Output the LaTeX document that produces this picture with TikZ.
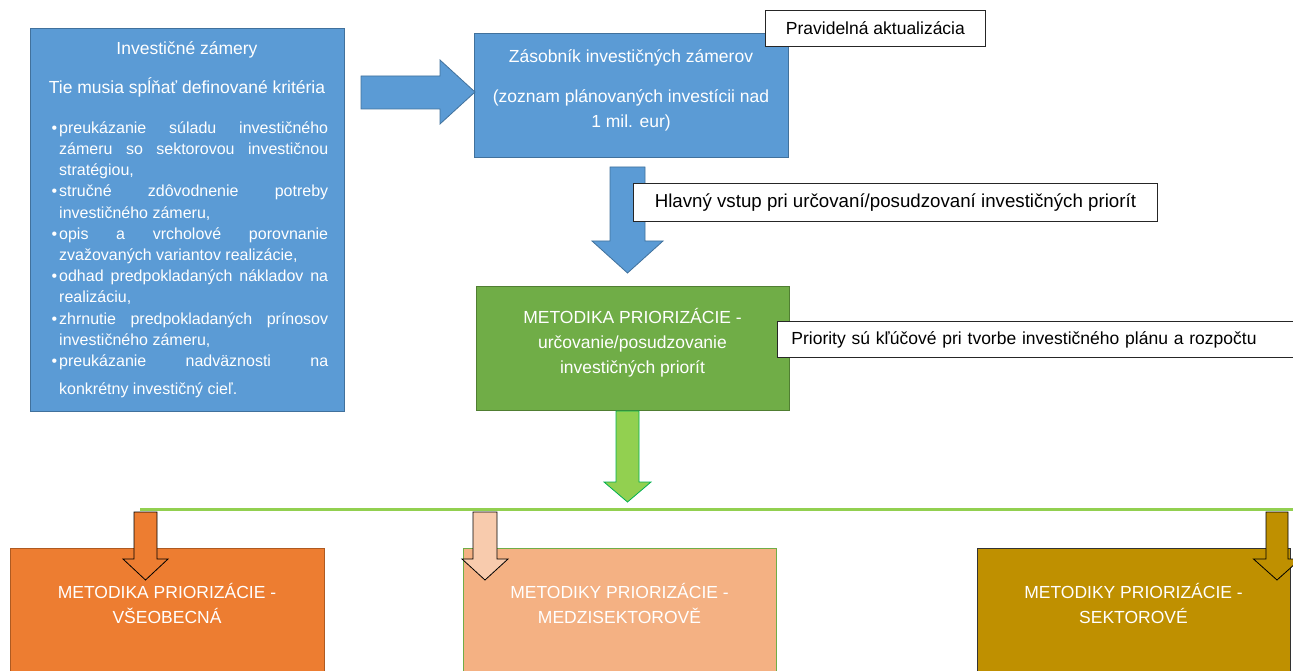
\documentclass[tikz,border=0pt]{standalone}
\usepackage{fontspec}
\setmainfont{Liberation Sans}
\usepackage{enumitem}
\usetikzlibrary{positioning}
\definecolor{offblue}{HTML}{5B9BD5}
\definecolor{blueedge}{HTML}{41719C}
\definecolor{offgreen}{HTML}{70AD47}
\definecolor{greenedge}{HTML}{507E32}
\definecolor{lightgreen}{HTML}{92D050}
\definecolor{brightgreen}{HTML}{00B050}
\definecolor{offorange}{HTML}{ED7D31}
\definecolor{orangeedge}{HTML}{AE5A21}
\definecolor{peach}{HTML}{F4B183}
\definecolor{lightpeach}{HTML}{F8CBAD}
\definecolor{olive}{HTML}{BF9000}
% block arrow pointing down: style, x, top, head, tip, half shaft, half head
\newcommand{\dnarrow}[7]{%
\draw[#1] (#2-#6,#3) -- (#2+#6,#3) -- (#2+#6,#4) -- (#2+#7,#4) -- (#2,#5) -- (#2-#7,#4) -- (#2-#6,#4) -- cycle;}
\begin{document}
\begin{tikzpicture}[x=1pt,y=-1pt,
  box/.style={rectangle, inner sep=0pt, line width=.8pt},
  bluebox/.style={box, fill=offblue, draw=blueedge},
  greenbox/.style={box, fill=offgreen, draw=greenedge},
  notebox/.style={rectangle, draw=black!85, fill=white, line width=.8pt, inner sep=0pt, font=\fontsize{17.5}{21}\selectfont},
  wtxt/.style={text=white, align=center, inner sep=0pt, font=\fontsize{17.5}{25}\selectfont},
  blockarrow/.style={line width=.8pt, line join=miter}]
\useasboundingbox (0,0) rectangle (1293,671);
\clip (0,0) rectangle (1293,671);
% top row
\node[bluebox, minimum width=314, minimum height=383] (inv) at (187,219.5) {};
\node[wtxt, anchor=base] (invtitle) at (187,55) {Investičné zámery};
\node[wtxt, anchor=base] (invcrit) at (187,94) {Tie musia spĺňať definované kritéria};
\node[wtxt, anchor=north west, text width=282, align=justify, font=\fontsize{16}{21.2}\selectfont] (invlist) at (46,112) {%
\hyphenpenalty=10000 \exhyphenpenalty=10000
\begin{itemize}[leftmargin=13pt, labelsep=2pt, itemsep=0pt, topsep=0pt, parsep=0pt, partopsep=0pt, label={\char"2022}]
\item preukázanie súladu investičného\linebreak zámeru so sektorovou investičnou\linebreak stratégiou,
\item stručné zdôvodnenie potreby\linebreak investičného zámeru,
\item opis a vrcholové porovnanie\linebreak zvažovaných variantov realizácie,
\item odhad predpokladaných nákladov na\linebreak realizáciu,
\item zhrnutie predpokladaných prínosov\linebreak investičného zámeru,
\item preukázanie nadväznosti na\linebreak \rule{0pt}{24pt}konkrétny investičný cieľ.
\end{itemize}};
\node[bluebox, minimum width=314, minimum height=124, anchor=north west] (zas) at (474,33) {};
\node[wtxt, anchor=base] (zastxt) at (631,128) {Zásobník investičných zámerov\\[15pt](zoznam plánovaných investícii nad\\1 mil. eur)};
\node[notebox, minimum width=220, minimum height=36, anchor=north west] (prav) at (765,10) {Pravidelná aktualizácia};
\draw[blockarrow, fill=offblue, draw=blueedge] (361,76) -- (440,76) -- (440,60) -- (475,92) -- (440,124) -- (440,109) -- (361,109) -- cycle;
% middle
\dnarrow{blockarrow, fill=offblue, draw=blueedge}{627.5}{167}{241}{273}{17.5}{35.5}
\node[notebox, minimum width=524, minimum height=38, anchor=north west, font=\fontsize{18.7}{22}\selectfont] (hlav) at (633,183) {Hlavný vstup pri určovaní/posudzovaní investičných priorít};
\node[greenbox, minimum width=313, minimum height=124, anchor=north west] (meth) at (476,286) {};
\node[wtxt, anchor=base] (methtxt) at (632.5,373) {METODIKA PRIORIZÁCIE -\\určovanie/posudzovanie\\investičných priorít};
\node[notebox, text width=500, align=left, inner xsep=14pt, minimum height=36, anchor=north west] (prio) at (777,321) {Priority sú kľúčové pri tvorbe investičného plánu a rozpočtu};
\dnarrow{blockarrow, fill=lightgreen, draw=brightgreen}{627.5}{411}{482}{502}{11.5}{23.5}
\coordinate (busl) at (140,509);
\coordinate (busr) at (1300,509);
\draw[lightgreen, line width=3pt] (busl) -- (busr);
% bottom row
\node[box, fill=offorange, draw=orangeedge, minimum width=314, minimum height=130, anchor=north west] (gen) at (10,548) {};
\node[wtxt, anchor=base] (gentxt) at (167,623) {METODIKA PRIORIZÁCIE -\\VŠEOBECNÁ};
\node[box, fill=peach, draw=offgreen, minimum width=313, minimum height=130, anchor=north west] (cross) at (463,548) {};
\node[wtxt, anchor=base] (crosstxt) at (619.5,623) {METODIKY PRIORIZÁCIE -\\MEDZISEKTOROVĚ};
\node[box, fill=olive, draw=black!80, minimum width=313, minimum height=130, anchor=north west] (sect) at (977,548) {};
\node[wtxt, anchor=base] (secttxt) at (1133.5,623) {METODIKY PRIORIZÁCIE -\\SEKTOROVÉ};
\dnarrow{blockarrow, fill=offorange, draw=black}{145.5}{512}{559}{580}{11.5}{22.5}
\dnarrow{blockarrow, fill=lightpeach, draw=black}{485}{512}{559}{580}{12}{23}
\dnarrow{blockarrow, fill=olive, draw=black}{1277}{512}{559}{580}{11}{23.5}
\end{tikzpicture}
\end{document}
